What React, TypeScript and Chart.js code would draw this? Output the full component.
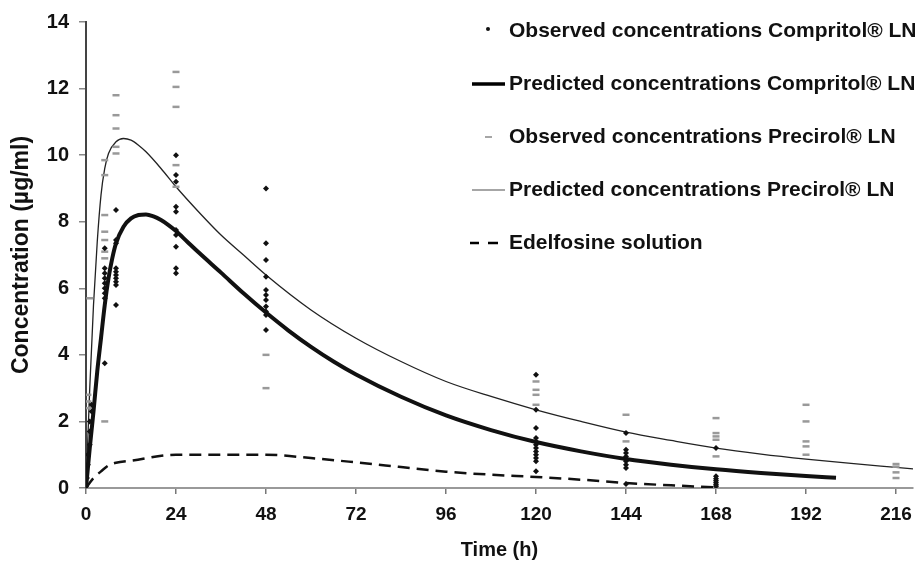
import { useEffect, useRef } from "react";
import { Chart, registerables } from "chart.js";

Chart.register(...registerables);

// ---------- data ----------
const xTickValues = [0, 24, 48, 72, 96, 120, 144, 168, 192, 216];

const compritolObsTimes = [
  0, 0.25, 0.5, 0.5, 1, 1, 1, 1.5, 1.5,
  5, 5, 5, 5, 5, 5, 5, 5, 5,
  8, 8, 8, 8, 8, 8, 8, 8, 8, 8,
  24, 24, 24, 24, 24, 24, 24, 24, 24, 24,
  48, 48, 48, 48, 48, 48, 48, 48, 48, 48, 48,
  120, 120, 120, 120, 120, 120, 120, 120, 120, 120, 120, 120,
  144, 144, 144, 144, 144, 144, 144, 144, 144,
  168, 168, 168, 168, 168, 168, 168,
];
const compritolObsValues = [
  0.05, 0.3, 0.7, 1.0, 1.3, 1.7, 2.0, 2.3, 2.5,
  7.2, 6.6, 6.45, 6.3, 6.15, 6.0, 5.85, 5.7, 3.75,
  8.35, 7.45, 7.35, 6.6, 6.5, 6.4, 6.3, 6.2, 6.1, 5.5,
  10.0, 9.4, 9.2, 8.45, 8.3, 7.75, 7.6, 7.25, 6.6, 6.45,
  9.0, 7.35, 6.85, 6.35, 5.95, 5.8, 5.65, 5.45, 5.3, 5.2, 4.75,
  3.4, 2.35, 1.8, 1.5, 1.4, 1.3, 1.2, 1.1, 1.0, 0.9, 0.8, 0.5,
  1.65, 1.15, 1.05, 0.95, 0.85, 0.8, 0.7, 0.6, 0.12,
  1.2, 0.35, 0.28, 0.22, 0.16, 0.1, 0.05,
];

const compritolPredTimes = [
  0, 0.5, 1, 2, 3, 4, 5, 6, 7, 8, 10, 12, 14, 16, 18, 20, 22, 24, 27, 30, 36, 42,
  48, 54, 60, 66, 72, 84, 96, 108, 120, 132, 144, 156, 168, 180, 192, 200,
];
const compritolPredValues = [
  0, 0.6, 1.2, 2.3, 3.5, 4.5, 5.5, 6.3, 6.9, 7.35, 7.85, 8.1, 8.2, 8.22, 8.16, 8.05, 7.9, 7.72, 7.4, 7.08, 6.47, 5.85,
  5.27, 4.73, 4.24, 3.8, 3.41, 2.74, 2.18, 1.74, 1.38, 1.1, 0.87, 0.7, 0.56, 0.45, 0.36, 0.31,
];

const precirolObsTimes = [
  0.5, 0.5, 0.5, 1,
  5, 5, 5, 5, 5, 5, 5, 5,
  8, 8, 8, 8, 8,
  24, 24, 24, 24, 24,
  48, 48,
  120, 120, 120, 120,
  144, 144,
  168, 168, 168, 168, 168,
  192, 192, 192, 192, 192,
  216, 216, 216, 216,
];
const precirolObsValues = [
  2.8, 2.6, 2.4, 5.7,
  9.85, 9.4, 8.2, 7.7, 7.45, 7.1, 6.9, 2.0,
  11.8, 11.2, 10.8, 10.25, 10.05,
  12.5, 12.05, 11.45, 9.7, 9.05,
  4.0, 3.0,
  3.2, 2.95, 2.8, 2.5,
  2.2, 1.4,
  2.1, 1.65, 1.55, 1.45, 0.95,
  2.5, 2.0, 1.4, 1.25, 1.0,
  0.72, 0.64, 0.47, 0.3,
];

const precirolPredTimes = [
  0, 0.5, 1, 2, 3, 4, 5, 6, 8, 10, 12, 14, 16, 20, 24, 30, 36, 42,
  48, 60, 72, 84, 96, 108, 120, 132, 144, 156, 168, 180, 192, 204, 216, 221,
];
const precirolPredValues = [
  0, 1.5, 3.0, 5.5, 7.4, 8.8, 9.6, 10.05, 10.4, 10.5, 10.45, 10.3, 10.1, 9.6, 9.05, 8.3, 7.6, 7.0,
  6.4, 5.35, 4.5, 3.8, 3.2, 2.75, 2.35, 2.0, 1.68, 1.43, 1.2, 1.02, 0.87, 0.74, 0.62, 0.57,
];

const edelfosineTimes = [0, 2, 4, 6, 8, 12, 24, 48, 60, 72, 84, 96, 108, 120, 132, 144, 156, 168];
const edelfosineValues = [0, 0.3, 0.5, 0.68, 0.76, 0.82, 1.0, 1.0, 0.9, 0.77, 0.63, 0.49, 0.4, 0.33, 0.25, 0.15, 0.08, 0.02];

const seriesLabels = [
  "Observed concentrations Compritol® LN",
  "Predicted concentrations Compritol® LN",
  "Observed concentrations Precirol® LN",
  "Predicted concentrations Precirol® LN",
  "Edelfosine solution",
];

const zip = (xs: number[], ys: number[]) => xs.map((x, i) => ({ x, y: ys[i] }));

const FONT = '"Liberation Sans", Arial, sans-serif';

const sideLegend = {
  id: "sideLegend",
  afterDraw(chart: any) {
    const ctx = chart.ctx as CanvasRenderingContext2D;
    ctx.save();
    const textX = 509;
    const symbols = ["dot", "thick", "dash", "thin", "dashed"];
    chart.data.datasets.forEach((ds: any, i: number) => {
      const y = 31 + i * 53;
      const kind = symbols[i];
      ctx.setLineDash([]);
      if (kind === "dot") {
        ctx.fillStyle = "#111";
        ctx.beginPath();
        ctx.arc(488, y - 2, 2, 0, Math.PI * 2);
        ctx.fill();
      } else if (kind === "thick") {
        ctx.strokeStyle = "#000";
        ctx.lineWidth = 3.5;
        ctx.beginPath();
        ctx.moveTo(472, y);
        ctx.lineTo(505, y);
        ctx.stroke();
      } else if (kind === "dash") {
        ctx.strokeStyle = "#888";
        ctx.lineWidth = 1.5;
        ctx.beginPath();
        ctx.moveTo(485, y);
        ctx.lineTo(492, y);
        ctx.stroke();
      } else if (kind === "thin") {
        ctx.strokeStyle = "#888";
        ctx.lineWidth = 1.5;
        ctx.beginPath();
        ctx.moveTo(472, y);
        ctx.lineTo(505, y);
        ctx.stroke();
      } else {
        ctx.strokeStyle = "#000";
        ctx.lineWidth = 2.5;
        ctx.beginPath();
        ctx.moveTo(470, y);
        ctx.lineTo(479, y);
        ctx.moveTo(488, y);
        ctx.lineTo(498, y);
        ctx.stroke();
      }
      ctx.fillStyle = "#111";
      ctx.font = `bold 21px ${FONT}`;
      ctx.textBaseline = "middle";
      ctx.textAlign = "left";
      ctx.fillText(ds.label, textX, y);
    });
    ctx.restore();
  },
};

export default function App() {
  const canvasRef = useRef<HTMLCanvasElement | null>(null);

  useEffect(() => {
    const canvas = canvasRef.current;
    if (!canvas) return;
    const chart = new Chart(canvas, {
      type: "scatter",
      data: {
        datasets: [
          {
            label: seriesLabels[0],
            data: zip(compritolObsTimes, compritolObsValues),
            pointStyle: "rectRot",
            pointRadius: 3,
            backgroundColor: "#111",
            borderColor: "#111",
            borderWidth: 0,
            showLine: false,
          },
          {
            label: seriesLabels[1],
            data: zip(compritolPredTimes, compritolPredValues),
            showLine: true,
            borderColor: "#111",
            borderWidth: 4,
            pointRadius: 0,
            cubicInterpolationMode: "monotone",
          },
          {
            label: seriesLabels[2],
            data: zip(precirolObsTimes, precirolObsValues),
            pointStyle: "line",
            pointRadius: 3.5,
            borderColor: "#999",
            backgroundColor: "#999",
            borderWidth: 2.5,
            showLine: false,
          },
          {
            label: seriesLabels[3],
            data: zip(precirolPredTimes, precirolPredValues),
            showLine: true,
            borderColor: "#222",
            borderWidth: 1.3,
            pointRadius: 0,
            cubicInterpolationMode: "monotone",
          },
          {
            label: seriesLabels[4],
            data: zip(edelfosineTimes, edelfosineValues),
            showLine: true,
            borderColor: "#111",
            borderWidth: 2.5,
            borderDash: [12, 7],
            pointRadius: 0,
            cubicInterpolationMode: "monotone",
          },
        ],
      },
      options: {
        animation: false,
        responsive: false,
        layout: { padding: { top: 20, right: 0, left: 0, bottom: 0 } },
        plugins: {
          legend: { display: false },
          tooltip: { enabled: false },
        },
        scales: {
          x: {
            type: "linear",
            min: 0,
            max: 220.5,
            afterBuildTicks: (axis: any) => {
              axis.ticks = xTickValues.map((v) => ({ value: v }));
            },
            afterFit: (scale: any) => {
              scale.height = 74;
            },
            ticks: {
              color: "#111",
              padding: 9,
              font: { family: FONT, size: 19, weight: "bold" },
              maxRotation: 0,
              autoSkip: false,
            },
            grid: { drawOnChartArea: false, drawTicks: true, tickLength: 6, color: "#777", lineWidth: 1.5 },
            border: { display: true, color: "#999", width: 2 },
            title: {
              display: true,
              text: "Time (h)",
              color: "#111",
              font: { family: FONT, size: 20, weight: "bold" },
              padding: { top: 0, bottom: 0 },
            },
          },
          y: {
            type: "linear",
            min: 0,
            max: 14,
            afterFit: (scale: any) => {
              scale.width = 86;
            },
            ticks: {
              stepSize: 2,
              color: "#111",
              padding: 10,
              font: { family: FONT, size: 20, weight: "bold" },
            },
            grid: { drawOnChartArea: false, drawTicks: true, tickLength: 7, color: "#888", lineWidth: 1.5 },
            border: { display: true, color: "#444", width: 2 },
            title: {
              display: true,
              text: "Concentration (µg/ml)",
              color: "#111",
              font: { family: FONT, size: 23, weight: "bold" },
              padding: { top: 8, bottom: 0 },
            },
          },
        },
      },
      plugins: [sideLegend],
    });
    return () => chart.destroy();
  }, []);

  return (
    <div style={{ position: "absolute", left: 0, top: 0, width: 921, height: 562, background: "#fff" }}>
      <canvas ref={canvasRef} width={921} height={562} />
    </div>
  );
}
